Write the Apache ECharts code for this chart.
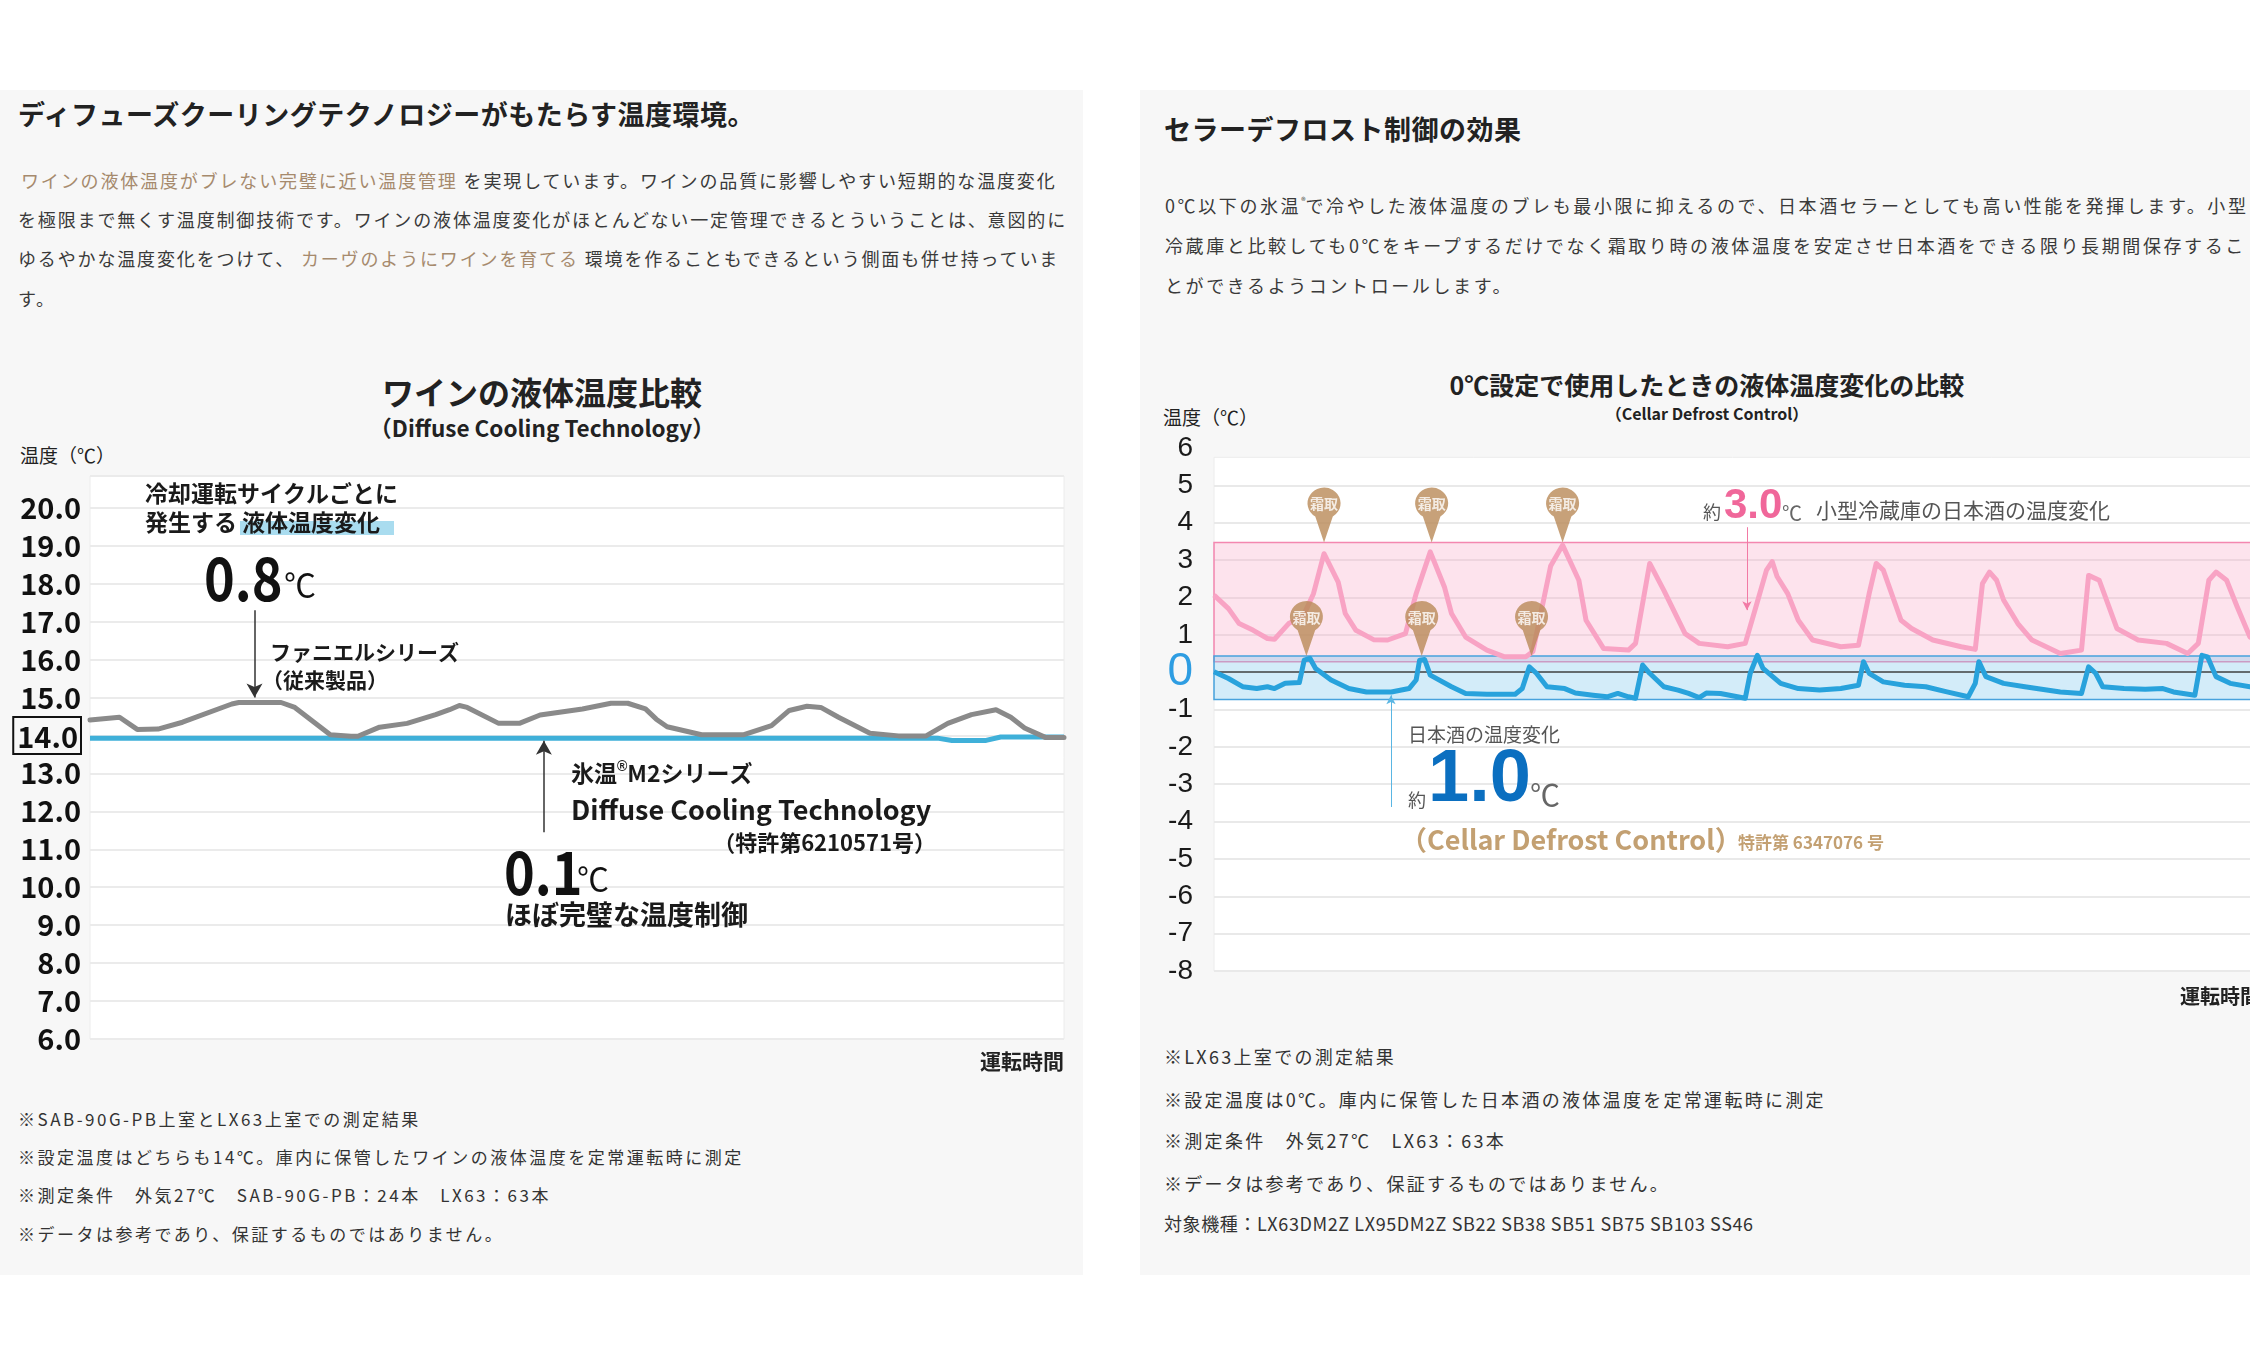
<!DOCTYPE html>
<html>
<head>
<meta charset="utf-8">
<script src="https://cdn.jsdelivr.net/npm/echarts@6/dist/echarts.min.js"></script>
<style>
  html, body { margin: 0; padding: 0; width: 2250px; height: 1362px; overflow: hidden; background: #fff;
    font-family: "Noto Sans CJK JP", sans-serif; color: #222; }
  .panel { position: absolute; top: 90px; height: 1185px; background: #f7f7f7; }
  .t { position: absolute; white-space: nowrap; line-height: 1; }
  .h2 { font-size: 27px; font-weight: bold; letter-spacing: 0.5px; }
  .p { font-size: 18px; letter-spacing: 2.6px; color: #3a3a3a; }
  .pl { letter-spacing: 1.85px; }
  .hl { color: #a68a6d; }
  .ttl { font-weight: bold; text-align: center; }
  .note { font-size: 17px; letter-spacing: 2.5px; color: #333; }
  .note2 { font-size: 18px; letter-spacing: 2.3px; color: #333; }
  sup { font-size: 9px; vertical-align: 9px; letter-spacing: 0; }
  #chart { position: absolute; left: 0; top: 0; width: 2250px; height: 1362px; z-index: 2; }
</style>
</head>
<body>
<div class="panel" style="left:0;width:1083px"></div>
<div class="panel" style="left:1140px;width:1110px"></div>

<div class="t h2" style="left:18px;top:100px">ディフューズクーリングテクノロジーがもたらす温度環境。</div>
<div class="t p pl" style="left:21px;top:171px"><span class="hl">ワインの液体温度がブレない完璧に近い温度管理</span> を実現しています。ワインの品質に影響しやすい短期的な温度変化</div>
<div class="t p pl" style="left:18px;top:210px">を極限まで無くす温度制御技術です。ワインの液体温度変化がほとんどない一定管理できるとういうことは、意図的に</div>
<div class="t p pl" style="left:18px;top:249px">ゆるやかな温度変化をつけて、 <span class="hl">カーヴのようにワインを育てる</span> 環境を作ることもできるという側面も併せ持っていま</div>
<div class="t p pl" style="left:18px;top:289px">す。</div>

<div class="t ttl" style="left:292px;width:500px;top:375px;font-size:32px">ワインの液体温度比較</div>
<div class="t ttl" style="left:292px;width:500px;top:416px;font-size:22.5px">（Diffuse Cooling Technology）</div>
<div class="t" style="left:20px;top:445px;font-size:19px">温度（℃）</div>

<div class="t note" style="left:18px;top:1110px">※SAB-90G-PB上室とLX63上室での測定結果</div>
<div class="t note" style="left:18px;top:1148px">※設定温度はどちらも14℃。庫内に保管したワインの液体温度を定常運転時に測定</div>
<div class="t note" style="left:18px;top:1186px">※測定条件　外気27℃　SAB-90G-PB：24本　LX63：63本</div>
<div class="t note" style="left:18px;top:1225px">※データは参考であり、保証するものではありません。</div>

<div class="t h2" style="left:1164px;top:115px">セラーデフロスト制御の効果</div>
<div class="t p" style="left:1165px;top:196px">0℃以下の氷温<sup>®</sup>で冷やした液体温度のブレも最小限に抑えるので、日本酒セラーとしても高い性能を発揮します。小型ワイン</div>
<div class="t p" style="left:1165px;top:236px">冷蔵庫と比較しても0℃をキープするだけでなく霜取り時の液体温度を安定させ日本酒をできる限り長期間保存するこ</div>
<div class="t p" style="left:1165px;top:276px">とができるようコントロールします。</div>

<div class="t ttl" style="left:1407px;width:600px;top:372px;font-size:25px">0℃設定で使用したときの液体温度変化の比較</div>
<div class="t ttl" style="left:1507px;width:400px;top:405px;font-size:16px">（Cellar Defrost Control）</div>
<div class="t" style="left:1163px;top:407px;font-size:19px">温度（℃）</div>

<div class="t note2" style="left:1164px;top:1047px">※LX63上室での測定結果</div>
<div class="t note2" style="left:1164px;top:1090px">※設定温度は0℃。庫内に保管した日本酒の液体温度を定常運転時に測定</div>
<div class="t note2" style="left:1164px;top:1131px">※測定条件　外気27℃　LX63：63本</div>
<div class="t note2" style="left:1164px;top:1174px">※データは参考であり、保証するものではありません。</div>
<div class="t note2" style="left:1164px;top:1214px;letter-spacing:0.6px">対象機種：LX63DM2Z LX95DM2Z SB22 SB38 SB51 SB75 SB103 SS46</div>

<div id="chart"></div>

<script>
// ---- ワインの液体温度比較 (left) ----
var wineTicks = [6, 7, 8, 9, 10, 11, 12, 13, 14, 15, 16, 17, 18, 19, 20];
var boxedTick = 14;
var greyTime = [0, 3.03, 4.85, 6.98, 9.5, 14.56, 15.27, 19.62, 21.03, 24.67, 26.8, 27.5, 29.73, 32.56, 35.49,
  36.91, 37.92, 38.73, 41.96, 44.08, 46.21, 50.56, 53.49, 55.21, 57.03, 58.14, 59.25, 62.79, 67.14, 69.97,
  71.79, 73.61, 75.03, 76.85, 80.08, 83.01, 85.84, 88.07, 90.5, 93.02, 94.54, 95.95, 98.08, 100];
var greyTemp = [14.41, 14.48, 14.16, 14.17, 14.35, 14.83, 14.87, 14.87, 14.74, 14.02, 13.98, 13.98, 14.22, 14.32, 14.55,
  14.68, 14.79, 14.74, 14.32, 14.32, 14.54, 14.7, 14.85, 14.85, 14.7, 14.43, 14.23, 14.02, 14.02, 14.26,
  14.66, 14.77, 14.74, 14.48, 14.06, 13.99, 13.99, 14.32, 14.55, 14.68, 14.48, 14.2, 13.95, 13.95];
var m2Time = [0, 87, 88.5, 92, 93.5, 100];
var m2Temp = [13.93, 13.93, 13.87, 13.87, 13.96, 13.96];

// ---- 0℃設定 (right) ----
var sakeTicks = [-8, -7, -6, -5, -4, -3, -2, -1, 0, 1, 2, 3, 4, 5, 6];
var fridgeTime = [0, 1.37, 2.38, 3.72, 5.06, 5.73, 7.07, 8.41, 9.42, 10.42, 11.76, 12.43, 13.44, 15.11, 16.45,
  18.13, 19.14, 20.48, 21.82, 22.49, 23.83, 25.84, 27.52, 29.53, 30.2, 31.88, 33.01, 34.55, 35.23, 36.9,
  39.25, 39.92, 41.26, 42.6, 44.61, 45.95, 48.64, 50.31, 51.32, 52.32, 52.86, 53.32, 54.33, 55.33, 56.68,
  59.36, 61.03, 62.04, 62.71, 63.38, 65.06, 66.06, 68.07, 70.76, 72.09, 72.77, 73.44, 74.11, 74.77, 76.12,
  77.46, 80.14, 82.15, 82.82, 83.83, 85.5, 87.51, 90.2, 92.21, 93.21, 94.21, 94.89, 95.89, 96.89, 98.1, 100];
var fridgeTemp = [2.06, 1.7, 1.3, 1.12, 0.9, 0.88, 1.3, 1.48, 2.1, 3.17, 2.41, 1.57, 1.12, 0.87, 0.86,
  1.03, 2.1, 3.22, 2.28, 1.57, 0.94, 0.59, 0.41, 0.41, 0.55, 2.84, 3.4, 2.46, 1.39, 0.63,
  0.59, 0.77, 2.91, 2.19, 1.03, 0.77, 0.68, 0.77, 1.75, 2.73, 2.96, 2.56, 2.1, 1.39, 0.86,
  0.68, 0.72, 2.1, 2.91, 2.73, 1.39, 1.17, 0.86, 0.68, 0.61, 2.37, 2.68, 2.46, 1.93, 1.3,
  0.86, 0.5, 0.59, 2.59, 2.46, 1.17, 0.86, 0.77, 0.5, 0.77, 2.46, 2.68, 2.46, 1.75, 0.94, 0.75];
var sakeTime = [0, 1.37, 2.71, 4.05, 5.06, 5.73, 6.74, 8.08, 8.54, 9.08, 9.62, 11.09, 12.77, 14.44, 16.79,
  18.47, 19.14, 19.47, 19.94, 20.48, 22.49, 23.83, 25.84, 28.52, 29.19, 29.86, 30.53, 31.53, 33.21, 34.22,
  35.89, 37.23, 38.24, 39.25, 39.92, 40.59, 41.26, 42.6, 43.94, 44.94, 45.95, 46.62, 47.96, 50.31, 50.78,
  51.45, 51.99, 53.66, 55.33, 57.35, 59.36, 61.03, 61.5, 62.04, 63.38, 65.39, 67.4, 69.41, 71.42, 72.09,
  72.43, 73.1, 74.77, 76.79, 80.14, 82.15, 82.82, 83.49, 84.16, 86.17, 88.18, 89.86, 90.86, 92.88, 93.55,
  94.08, 94.89, 96.23, 98.1, 100];
var sakeTemp = [0.01, -0.17, -0.39, -0.44, -0.39, -0.44, -0.3, -0.28, 0.32, 0.37, 0.1, -0.21, -0.44, -0.53, -0.53,
  -0.44, -0.21, 0.32, 0.34, -0.08, -0.39, -0.57, -0.59, -0.59, -0.44, 0.14, -0.03, -0.39, -0.44, -0.56,
  -0.62, -0.66, -0.57, -0.66, -0.7, 0.19, -0.03, -0.39, -0.48, -0.57, -0.68, -0.56, -0.57, -0.7, -0.03,
  0.45, 0.1, -0.3, -0.44, -0.48, -0.44, -0.35, 0.28, -0.03, -0.26, -0.35, -0.39, -0.53, -0.66, -0.3,
  0.28, -0.12, -0.3, -0.39, -0.53, -0.57, 0.14, -0.03, -0.39, -0.44, -0.46, -0.44, -0.53, -0.62, 0.45,
  0.41, -0.12, -0.3, -0.39, -0.42];
var fridgeBand = [0.28, 3.47];   // 約3.0℃
var sakeBand = [-0.73, 0.43];    // 約1.0℃
var defrostTime = [10.42, 20.61, 33.01, 8.75, 19.67, 30.07];
var defrostTemp = [3.47, 3.47, 3.47, 0.43, 0.43, 0.43];

function pairs(xs, ys) {
  return xs.map(function (x, i) { return [x, ys[i]]; });
}

var JP = '"Noto Sans CJK JP"';
var chart = echarts.init(document.getElementById('chart'), null, { renderer: 'canvas' });

var hiddenX = {
  type: 'value', min: 0, max: 100,
  axisLine: { show: false, onZero: false }, axisTick: { show: false }, axisLabel: { show: false }, splitLine: { show: false },
  name: '運転時間', nameLocation: 'end', nameGap: 0
};

// 右グラフの 6 の線だけ消す
var sakeLineColors = sakeTicks.map(function (t) { return t === 6 ? 'rgba(0,0,0,0)' : '#e9e9e9'; });

function txt(x, y, text, font, fill, extra) {
  return Object.assign({ type: 'text', x: x, y: y, z: 100,
    style: Object.assign({ text: text, font: font, fill: fill || '#1a1a1a', verticalAlign: 'middle' }, extra || {}) });
}

chart.setOption({
  animation: false,
  textStyle: { fontFamily: JP },
  grid: [
    { left: 90, top: 476, width: 974, height: 563, outerBoundsMode: 'none',
      show: true, backgroundColor: '#fff', borderColor: '#ececec', borderWidth: 1 },
    { left: 1214, top: 448, width: 1056, height: 523, outerBoundsMode: 'none' }
  ],
  xAxis: [
    Object.assign({}, hiddenX, { gridIndex: 0,
      nameTextStyle: { align: 'right', verticalAlign: 'top', padding: [12, 0, 0, 0], fontSize: 21, fontWeight: 'bold', color: '#222' } }),
    Object.assign({}, hiddenX, { gridIndex: 1, nameGap: -10,
      nameTextStyle: { align: 'right', verticalAlign: 'top', padding: [15, 0, 0, 0], fontSize: 20, fontWeight: 'bold', color: '#222' } })
  ],
  yAxis: [
    {
      gridIndex: 0, type: 'value', min: wineTicks[0], max: 20.84, interval: 1,
      axisLine: { show: false }, axisTick: { show: false },
      splitLine: { lineStyle: { color: '#ebebeb', width: 2 } },
      axisLabel: {
        margin: 9, fontSize: 29, fontWeight: 'bold', color: '#111',
        formatter: function (v) {
          if (wineTicks.indexOf(v) < 0) return '';
          var s = v.toFixed(1);
          return v === boxedTick ? '{box|' + s + '}' : s;
        },
        rich: { box: { fontSize: 29, fontWeight: 'bold', color: '#111', borderColor: '#111', borderWidth: 2, padding: [5, 3, 3, 4] } }
      }
    },
    {
      gridIndex: 1, type: 'value', min: sakeTicks[0], max: sakeTicks[sakeTicks.length - 1], interval: 1,
      axisLine: { show: false }, axisTick: { show: false },
      splitLine: { lineStyle: { color: sakeLineColors, width: 2 } },
      axisLabel: {
        margin: 21, fontSize: 28, color: '#1a1a1a', fontFamily: '"Liberation Sans"',
        formatter: function (v) { return v === 0 ? '{zero|0}' : String(v); },
        rich: { zero: { fontSize: 46, color: '#2e9de2', fontFamily: '"Liberation Sans"' } }
      }
    }
  ],
  series: [
    // left
    {
      name: '氷温M2シリーズ', type: 'line', xAxisIndex: 0, yAxisIndex: 0, data: pairs(m2Time, m2Temp),
      symbol: 'none', lineStyle: { color: '#3fb0d9', width: 5 }, z: 3,
      markLine: {
        silent: true, symbol: ['none', 'arrow'], symbolSize: [12, 14], label: { show: false },
        lineStyle: { color: '#333', width: 1.5, type: 'solid' },
        data: [[{ coord: [46.6, 11.45] }, { coord: [46.6, 13.86] }]]
      }
    },
    {
      name: 'ファニエルシリーズ', type: 'line', xAxisIndex: 0, yAxisIndex: 0, data: pairs(greyTime, greyTemp),
      symbol: 'none', lineStyle: { color: '#8a8a8a', width: 5, join: 'round', cap: 'round' }, z: 4,
      markLine: {
        silent: true, symbol: ['none', 'arrow'], symbolSize: [12, 14], label: { show: false },
        lineStyle: { color: '#333', width: 1.5, type: 'solid' },
        data: [[{ coord: [16.89, 17.3] }, { coord: [16.89, 15.0] }]]
      }
    },
    // right: white plot box, under the grid lines
    {
      type: 'line', xAxisIndex: 1, yAxisIndex: 1, data: [], z: -1, silent: true,
      markArea: {
        silent: true, z: -1,
        itemStyle: { color: '#fff', borderColor: '#ececec', borderWidth: 1 },
        data: [[{ xAxis: 0, yAxis: sakeTicks[0] }, { xAxis: 100, yAxis: 5.75 }]]
      }
    },
    // bands and the 0 line
    {
      type: 'line', xAxisIndex: 1, yAxisIndex: 1, data: [], z: 1, silent: true,
      markArea: {
        silent: true, z: 1,
        data: [
          [{ yAxis: fridgeBand[0], itemStyle: { color: 'rgba(249,170,200,0.33)', borderColor: '#f487b0', borderWidth: 1.5 } },
           { yAxis: fridgeBand[1] }],
          [{ yAxis: sakeBand[0], itemStyle: { color: 'rgba(120,196,236,0.33)', borderColor: '#47a2dd', borderWidth: 1.5 } },
           { yAxis: sakeBand[1] }]
        ]
      },
      markLine: {
        silent: true, symbol: 'none', label: { show: false }, z: 1,
        lineStyle: { color: '#444', width: 1.5, type: 'solid' },
        data: [{ yAxis: 0 }]
      }
    },
    {
      name: '小型冷蔵庫', type: 'line', xAxisIndex: 1, yAxisIndex: 1, data: pairs(fridgeTime, fridgeTemp),
      symbol: 'none', lineStyle: { color: '#f8a3c4', width: 5, join: 'round' }, z: 2,
      markLine: {
        silent: true, symbol: ['none', 'arrow'], symbolSize: [7, 9], label: { show: false },
        lineStyle: { color: '#f27aa5', width: 1, type: 'solid' },
        data: [[{ coord: [50.47, 3.88] }, { coord: [50.47, 1.66] }]]
      }
    },
    {
      name: '日本酒', type: 'line', xAxisIndex: 1, yAxisIndex: 1, data: pairs(sakeTime, sakeTemp),
      symbol: 'none', lineStyle: { color: '#28a2dc', width: 5, join: 'round' }, z: 3,
      markLine: {
        silent: true, symbol: ['none', 'arrow'], symbolSize: [7, 9], label: { show: false },
        lineStyle: { color: '#5ab6e3', width: 1, type: 'solid' },
        data: [[{ coord: [16.76, -3.61] }, { coord: [16.76, -0.62] }]]
      }
    },
    {
      name: '霜取', type: 'scatter', xAxisIndex: 1, yAxisIndex: 1, data: pairs(defrostTime, defrostTemp), z: 5,
      symbol: 'path://M16 56 L7.5 29.6 A16 16 0 1 1 24.5 29.6 Z',
      symbolSize: [33, 55], symbolOffset: [0, -27.5], symbolKeepAspect: false,
      itemStyle: { color: '#b98a58' },
      label: { show: true, formatter: '霜取', position: 'inside', offset: [0, -11], color: '#fff', fontSize: 14, fontWeight: 'bold' }
    }
  ],
  graphic: [
    // left annotations
    { type: 'rect', z: 99, shape: { x: 240, y: 521, width: 154, height: 14 }, style: { fill: '#a9dcef' } },
    txt(145, 493, '冷却運転サイクルごとに', 'bold 23px ' + JP),
    txt(145, 522, '発生する', 'bold 23px ' + JP),
    txt(242, 522, '液体温度変化', 'bold 23px ' + JP),
    Object.assign(txt(204, 578, '0.8', 'bold 60px ' + JP, '#111'), { scaleX: 0.87 }),
    txt(284, 585, '℃', '32px ' + JP, '#111'),
    txt(270, 652, 'ファニエルシリーズ', 'bold 21px ' + JP),
    txt(262, 680, '（従来製品）', 'bold 21px ' + JP),
    txt(571, 773, '氷温{s|®}M2シリーズ', 'bold 23px ' + JP, '#1a1a1a',
      { rich: { s: { fontSize: 14, fontWeight: 'bold', verticalAlign: 'top', padding: [0, 0, 12, 0] } } }),
    txt(571, 810, 'Diffuse Cooling Technology', 'bold 27px ' + JP),
    txt(936, 843, '（特許第6210571号）', 'bold 22px ' + JP, '#1a1a1a', { align: 'right' }),
    Object.assign(txt(504, 872, '0.1', 'bold 60px ' + JP, '#111'), { scaleX: 0.87 }),
    txt(577, 879, '℃', '32px ' + JP, '#111'),
    txt(505, 915, 'ほぼ完璧な温度制御', 'bold 27px ' + JP),
    // right annotations
    txt(1703, 512, '約', '18px ' + JP, '#555'),
    txt(1724, 506, '3.0', 'bold 42px "Liberation Sans"', '#f0679a'),
    txt(1782, 513, '℃', '20px ' + JP, '#666'),
    txt(1816, 510, '小型冷蔵庫の日本酒の温度変化', '21px ' + JP, '#555'),
    txt(1408, 735, '日本酒の温度変化', '19px ' + JP, '#555'),
    txt(1408, 800, '約', '18px ' + JP, '#555'),
    txt(1428, 781, '1.0', 'bold 74px "Liberation Sans"', '#0b6fc0'),
    txt(1530, 795, '℃', '30px ' + JP, '#666'),
    txt(1400, 840, '（Cellar Defrost Control）', 'bold 27px ' + JP, '#c3a072'),
    txt(1738, 843, '特許第 6347076 号', 'bold 17px ' + JP, '#c3a072')
  ]
});
</script>
</body>
</html>
